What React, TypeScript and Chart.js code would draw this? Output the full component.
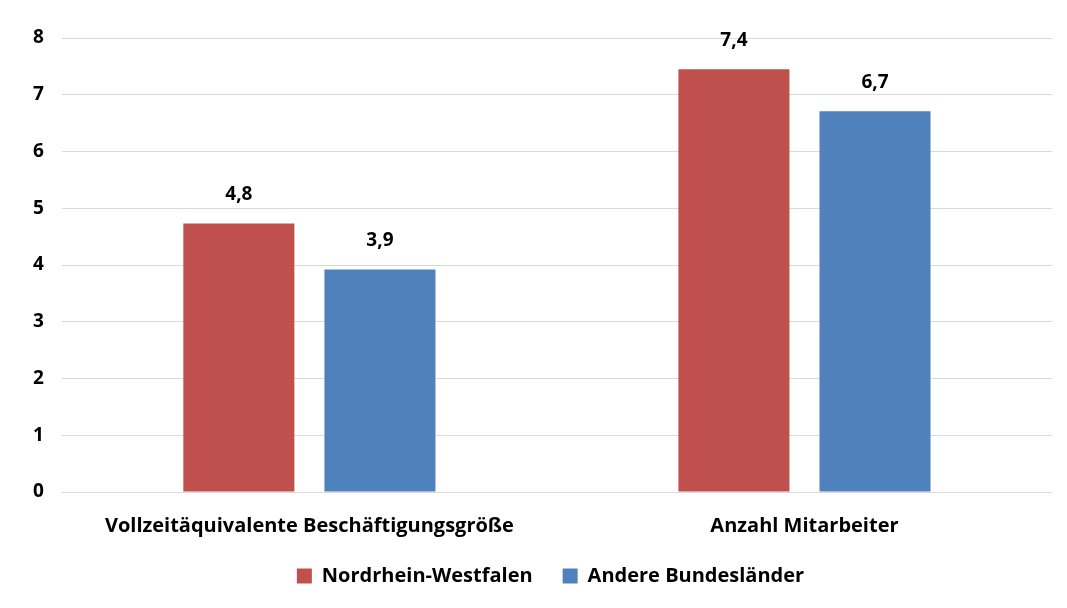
import React, { useEffect, useRef } from "react";
import { Chart, registerables } from "chart.js";

Chart.register(...registerables);

const categories = ["Vollzeitäquivalente Beschäftigungsgröße", "Anzahl Mitarbeiter"];
const seriesNames = ["Nordrhein-Westfalen", "Andere Bundesländer"];
const nrwValues = [4.73, 7.45];
const otherValues = [3.92, 6.71];
const nrwLabels = ["4,8", "7,4"];
const otherLabels = ["3,9", "6,7"];
const yTicks = [0, 1, 2, 3, 4, 5, 6, 7, 8];

const FONT = "'Open Sans', sans-serif";
const LEGEND_PAD = 30;

const labelPlugin = {
  id: "barLabels",
  afterDatasetsDraw(chart: any) {
    const ctx = chart.ctx;
    const labelSets = [nrwLabels, otherLabels];
    ctx.save();
    ctx.font = `bold 19px ${FONT}`;
    ctx.fillStyle = "#000";
    ctx.textAlign = "center";
    ctx.textBaseline = "middle";
    chart.data.datasets.forEach((ds: any, i: number) => {
      const meta = chart.getDatasetMeta(i);
      meta.data.forEach((bar: any, j: number) => {
        ctx.fillText(labelSets[i][j], bar.x, bar.y - 29);
      });
    });
    ctx.restore();
  },
};

const legendShift = {
  id: "legendShift",
  afterLayout(chart: any) {
    const lg = chart.legend;
    if (!lg) return;
    const newTop = 577 - LEGEND_PAD - 11;
    const dy = newTop - lg.top;
    lg.top += dy;
    lg.bottom += dy;
    lg.left += 17;
    lg.right += 17;
  },
};

export default function App() {
  const ref = useRef<HTMLCanvasElement>(null);
  useEffect(() => {
    if (!ref.current) return;
    const chart = new Chart(ref.current, {
      type: "bar",
      data: {
        labels: categories,
        datasets: [
          {
            label: seriesNames[0],
            data: nrwValues,
            backgroundColor: "#C0504D",
            barPercentage: 0.787,
            categoryPercentage: 0.57,
          },
          {
            label: seriesNames[1],
            data: otherValues,
            backgroundColor: "#4F81BD",
            barPercentage: 0.787,
            categoryPercentage: 0.57,
          },
        ],
      },
      options: {
        animation: false,
        responsive: false,
        maintainAspectRatio: false,
        layout: { padding: { left: 15, right: 15, top: 38, bottom: -4 } },
        scales: {
          x: {
            grid: { display: false },
            border: { display: false },
            ticks: {
              color: "#000",
              font: { family: FONT, size: 20, weight: "bold" },
              padding: 14,
            },
          },
          y: {
            min: 0,
            max: 8,
            afterBuildTicks: (axis: any) => {
              axis.ticks = yTicks.map((v) => ({ value: v }));
            },
            grid: { color: "#d9d9d9", drawTicks: false, lineWidth: 1 },
            border: { display: false },
            ticks: {
              color: "#000",
              font: { family: FONT, size: 19, weight: "bold" },
              padding: 18,
            },
          },
        },
        plugins: {
          legend: {
            position: "bottom",
            labels: {
              color: "#000",
              font: { family: FONT, size: 20, weight: "bold" },
              boxWidth: 15,
              boxHeight: 15,
              padding: LEGEND_PAD,
            },
          },
          tooltip: { enabled: false },
        },
      },
      plugins: [labelPlugin, legendShift],
    });
    return () => chart.destroy();
  }, []);
  return (
    <div style={{ position: "absolute", left: 0, top: 0, width: 1067, height: 608, background: "#fff" }}>
      <canvas ref={ref} width={1067} height={608} />
    </div>
  );
}
